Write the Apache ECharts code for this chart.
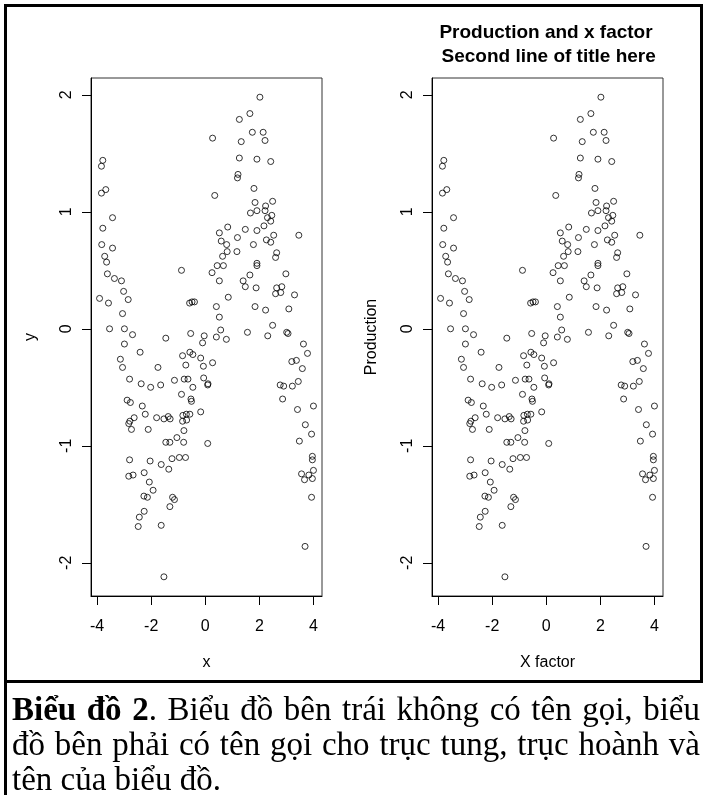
<!DOCTYPE html>
<html>
<head>
<meta charset="utf-8">
<script src="https://cdn.jsdelivr.net/npm/echarts@6/dist/echarts.min.js"></script>
<style>
  html, body { margin: 0; padding: 0; background: #fff; }
  body { width: 706px; height: 795px; position: relative; overflow: hidden; }
  #chart_div { position: absolute; left: 0; top: 0; width: 706px; height: 684px; }
  #frame { position: absolute; left: 4px; top: 4px; width: 693px; height: 673px; border: 3px solid #000; pointer-events: none; }
  #frame_left { position: absolute; left: 4px; top: 680px; width: 3px; height: 115px; background: #000; }
  #caption { position: absolute; left: 12px; top: 692px; width: 688px; font-family: "Liberation Serif", "DejaVu Serif", serif; font-size: 33px; line-height: 35px; color: #000; }
  #caption .just { text-align: justify; text-align-last: justify; white-space: nowrap; }
</style>
</head>
<body>
<div id="chart_div"></div>
<div id="frame"></div>
<div id="frame_left"></div>
<div id="caption">
  <div class="just"><b>Biểu đồ 2</b>. Biểu đồ bên trái không có tên gọi, biểu</div>
  <div class="just">đồ bên phải có tên gọi cho trục tung, trục hoành và</div>
  <div>tên của biểu đồ.</div>
</div>
<script>
// values (same data in both panels)
const xValues = [
  -3.79, -3.84, -3.84, -3.68, -3.43, -3.79, -3.83, -3.43, -3.72, -3.65,
  -3.62, -3.36, -3.10, -3.02, -3.91, -3.58, -2.85, -3.06, -3.54, -2.99,
  -2.69, -1.46, -0.88, -0.58, -0.49, -0.40, -0.54, -0.04, 0.41, 0.57,
  0.78, 0.27, 0.35, 2.02, 1.65, 1.26, 1.74, 2.14, 1.33, 2.21,
  1.26, 1.91, 2.42, 1.21, 1.19, 1.80, 1.84, 2.49, 2.23, 1.67,
  1.91, 2.21, 2.46, 2.30, 2.42, 0.83, 0.52, 1.48, 1.91, 2.17,
  3.46, 0.59, 0.79, 1.19, 1.78, 2.26, 2.42, 2.53, 0.64, 0.81,
  1.17, 2.64, 2.60, 0.44, 0.67, 1.91, 1.91, 0.25, 0.52, 1.40,
  1.65, 1.48, 1.88, 2.64, 2.83, 2.79, 2.60, 2.98, 3.30, 0.85,
  0.41, 1.84, 0.52, 2.23, 3.09, 2.49, 1.56, 2.31, 3.01, 3.06,
  -2.99, -2.41, -3.14, -3.06, -1.75, -2.80, -2.37, -2.02, -1.65, -1.14,
  -0.78, -0.64, -0.84, -0.57, -0.46, -0.72, -0.17, -0.10, -0.07, 0.27,
  -0.06, 0.10, 0.09, -0.46, -0.88, -0.53, -0.51, -0.17, -0.83, -0.70,
  -0.57, -0.84, -0.69, -0.79, -1.05, -1.46, -1.31, -0.80, 0.09, -1.80,
  -1.53, -1.37, -1.30, -2.89, -2.77, -2.33, -2.22, -2.63, -2.79, -2.83,
  -2.73, -2.11, -2.80, -2.04, -2.83, -2.67, -2.26, -1.63, -1.35, -1.23,
  -0.96, -0.73, -2.07, -1.93, -2.27, -2.14, -1.21, -1.14, -1.31, -2.26,
  -2.44, -2.48, -1.63, -1.53,
  3.63, 3.78, 3.20, 3.37, 3.59, 3.44, 2.77, 2.90, 3.22, 2.86,
  3.41, 4.00, 3.70, 3.93, 3.48, 3.96, 3.96, 3.56, 3.83, 4.00,
  3.67, 3.96, 3.93, 3.69
];
const yValues = [
  1.44, 1.39, 1.16, 1.19, 0.95, 0.86, 0.72, 0.69, 0.62, 0.57,
  0.47, 0.43, 0.41, 0.32, 0.26, 0.22, 0.25, 0.13, 0.00, 0.00,
  -0.05, -0.08, 0.50, 0.22, 0.23, 0.23, -0.04, -0.06, -0.07, -0.01,
  -0.09, 1.63, 1.14, 1.98, 1.84, 1.79, 1.68, 1.68, 1.60, 1.61,
  1.46, 1.45, 1.43, 1.32, 1.29, 1.20, 1.08, 1.09, 1.05, 0.99,
  1.01, 1.01, 0.97, 0.95, 0.92, 0.87, 0.82, 0.85, 0.84, 0.88,
  0.80, 0.75, 0.72, 0.78, 0.72, 0.76, 0.74, 0.80, 0.62, 0.66,
  0.66, 0.65, 0.61, 0.54, 0.54, 0.56, 0.54, 0.48, 0.41, 0.41,
  0.46, 0.36, 0.35, 0.35, 0.36, 0.31, 0.30, 0.47, 0.29, 0.27,
  0.19, 0.19, 0.10, 0.16, 0.17, 0.03, -0.03, -0.06, -0.03, -0.04,
  -0.13, -0.20, -0.26, -0.33, -0.33, -0.43, -0.47, -0.50, -0.48, -0.44,
  -0.43, -0.43, -0.23, -0.20, -0.22, -0.31, -0.25, -0.12, -0.32, -0.29,
  -0.42, -0.47, -0.48, -0.50, -0.56, -0.60, -0.62, -0.71, -0.74, -0.73,
  -0.73, -0.79, -0.78, -0.87, -0.93, -0.97, -0.97, -0.97, -0.98, -0.76,
  -0.77, -0.75, -0.77, -0.61, -0.63, -0.66, -0.73, -0.76, -0.79, -0.81,
  -0.86, -0.86, -1.12, -1.13, -1.26, -1.25, -1.23, -1.16, -1.20, -1.11,
  -1.10, -1.10, -1.31, -1.38, -1.43, -1.44, -1.44, -1.46, -1.52, -1.56,
  -1.61, -1.69, -1.68, -2.12,
  -0.13, -0.21, -0.28, -0.27, -0.34, -0.45, -0.48, -0.49, -0.49, -0.60,
  -0.69, -0.66, -0.82, -0.90, -0.96, -1.09, -1.12, -1.24, -1.25, -1.21,
  -1.29, -1.28, -1.44, -1.86
];
const xTicks = [-4, -2, 0, 2, 4];
const yTicks = [-2, -1, 0, 1, 2];
const xNames = ["x", "X factor"];
const yNames = ["y", "Production"];
const titleLines = ["Production and x factor", " Second line of title here"];

const FONT = "Liberation Sans";

// R style: data range widened by 4% on each side
function padRange(arr) {
  const lo = Math.min(...arr), hi = Math.max(...arr);
  const d = (hi - lo) * 0.04;
  return [lo - d, hi + d];
}
const xRange = padRange(xValues);
const yRange = padRange(yValues);
const points = xValues.map((x, i) => [x, yValues[i]]);

const grids = [
  { left: 91, top: 78, width: 231, height: 518, show: true, borderColor: "#333", borderWidth: 1 },
  { left: 432, top: 78, width: 231, height: 518, show: true, borderColor: "#333", borderWidth: 1 }
];

function makeXAxis(idx) {
  return {
    type: "value", gridIndex: idx, min: xRange[0], max: xRange[1],
    name: xNames[idx], nameLocation: "middle", nameGap: 59,
    nameTextStyle: { fontFamily: FONT, fontSize: 16, color: "#000" },
    axisLine: { show: true, onZero: false, lineStyle: { color: "#000", width: 1 } },
    axisTick: { show: true, length: 9, customValues: xTicks, lineStyle: { color: "#000" } },
    axisLabel: { customValues: xTicks, margin: 23, fontFamily: FONT, fontSize: 16, color: "#000" },
    splitLine: { show: false }
  };
}

function makeYAxis(idx) {
  return {
    type: "value", gridIndex: idx, min: yRange[0], max: yRange[1],
    name: yNames[idx], nameLocation: "middle", nameGap: 52, nameRotate: 90,
    nameTextStyle: { fontFamily: FONT, fontSize: 16, color: "#000" },
    axisLine: { show: true, onZero: false, lineStyle: { color: "#000", width: 1 } },
    axisTick: { show: true, length: 9, customValues: yTicks, lineStyle: { color: "#000" } },
    axisLabel: { customValues: yTicks, rotate: 90, margin: 16, fontFamily: FONT, fontSize: 16, color: "#000" },
    splitLine: { show: false }
  };
}

function makeSeries(idx) {
  return {
    type: "scatter", xAxisIndex: idx, yAxisIndex: idx,
    data: points, symbol: "circle", symbolSize: 6,
    itemStyle: { color: "transparent", borderColor: "#000", borderWidth: 1 },
    emphasis: { disabled: true }
  };
}

const myChart = echarts.init(document.getElementById("chart_div"));
const option = {
  animation: false,
  backgroundColor: "transparent",
  grid: grids,
  xAxis: [makeXAxis(0), makeXAxis(1)],
  yAxis: [makeYAxis(0), makeYAxis(1)],
  series: [makeSeries(0), makeSeries(1)],
  graphic: [
    {
      type: "text", x: 546, y: 21,
      style: {
        text: titleLines.join("\n"), textAlign: "center", textVerticalAlign: "top",
        font: "bold 19px '" + FONT + "'", lineHeight: 24, fill: "#000"
      }
    }
  ]
};
myChart.setOption(option);
</script>
</body>
</html>
